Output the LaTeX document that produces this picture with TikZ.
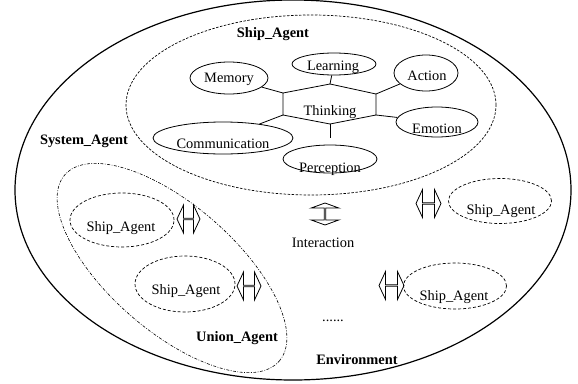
\documentclass[tikz,border=0pt]{standalone}
\usepackage{fontspec}
\setmainfont{Liberation Serif}
\usetikzlibrary{shapes.geometric, shapes.arrows}

\begin{document}
\begin{tikzpicture}[x=1pt, y=-1pt, font=\fontsize{14.4}{17}\selectfont,
  part/.style={draw, ellipse, inner sep=0pt, line width=0.8pt},
  agent/.style={draw, ellipse, inner sep=0pt, line width=0.7pt, dash pattern=on 3pt off 2pt},
  txt/.style={anchor=base, inner sep=0pt},
  bold/.style={txt, font=\fontsize{14.4}{17}\selectfont\bfseries},
  link/.style={line width=0.8pt},
  swap/.style={draw, double arrow, inner sep=0pt, line width=0.8pt, minimum width=28pt, minimum height=24pt,
    double arrow head extend=7pt, double arrow tip angle=130}]
\useasboundingbox (0,0) rectangle (578,383);

% environment, ship agent group and union agent
\draw [line width=1.2pt] (293,190) ellipse [x radius=278pt, y radius=190pt];
\draw [line width=0.7pt, dash pattern=on 2.5pt off 1.5pt] (311,105) ellipse [x radius=185pt, y radius=90pt];
\draw [line width=0.6pt, dash pattern=on 3pt off 1.5pt on 0.8pt off 1.5pt, rotate around={-41:(172,268)}]
  (172,268) ellipse [x radius=142pt, y radius=63pt];

% thinking hexagon
\coordinate (h1) at (283,93);
\coordinate (h2) at (330,84);
\coordinate (h3) at (376,94);
\coordinate (h4) at (376,115);
\coordinate (h5) at (330,124);
\coordinate (h6) at (283,115);
\draw [link] (h1) -- (h2) -- (h3) -- (h4) -- (h5) -- (h6) -- cycle;
\node [txt] (think) at (330,115) {Thinking};

% parts of the ship agent
\node [part, minimum width=78pt, minimum height=32pt]  (mem)   at (229,78)  {};
\node [part, minimum width=84pt, minimum height=22pt]  (learn) at (334,64)  {};
\node [part, minimum width=64pt, minimum height=36pt]  (act)   at (426,73)  {};
\node [part, minimum width=82pt, minimum height=30pt]  (emo)   at (437,122) {};
\node [part, minimum width=140pt, minimum height=32pt] (comm)  at (223,138) {};
\node [part, minimum width=94pt, minimum height=28pt]  (perc)  at (330,159) {};

\node [txt] (memt)   at (229,82.7) {Memory};
\node [txt] (learnt) at (333,70.7) {Learning};
\node [txt] (actt)   at (427,80)   {Action};
\node [txt] (emot)   at (437,133)  {Emotion};
\node [txt] (commt)  at (223,148)  {Communication};
\node [txt] (perct)  at (330,172)  {Perception};

\draw [link] (mem) -- (h1);
\draw [link] (learn) -- (h2);
\draw [link] (act) -- (h3);
\draw [link] (emo) -- (h4);
\draw [link, shorten >=7pt] (h5) -- (perc);
\draw [link] (comm) -- (h6);

% ship agents
\node [agent, minimum width=104pt, minimum height=54pt] (sa1) at (122,220) {};
\node [agent, minimum width=100pt, minimum height=56pt] (sa2) at (185,284) {};
\node [agent, minimum width=103pt, minimum height=45pt] (sa3) at (500,201) {};
\node [agent, minimum width=103pt, minimum height=46pt] (sa4) at (455,286) {};

\node [txt] (sa1t) at (121,231.7) {Ship\_Agent};
\node [txt] (sa2t) at (186,294)   {Ship\_Agent};
\node [txt] (sa3t) at (501,214)   {Ship\_Agent};
\node [txt] (sa4t) at (454,300.7) {Ship\_Agent};

% interaction arrows
\node [swap, minimum height=23pt] (sw1) at (188.5,219) {};
\node [swap] (sw2) at (249,286) {};
\node [swap, minimum height=25pt] (sw3) at (428.5,203.5) {};
\node [swap, minimum height=25pt] (sw4) at (391.5,285.5) {};
\node [swap, minimum height=22pt, rotate=90, double arrow tip angle=140] (sw5) at (325,214) {};
\node [txt] (inter) at (323,247) {Interaction};
\node [txt] (dots) at (333,321) {......};

% group labels
\node [bold] (shipl)   at (273,37)  {Ship\_Agent};
\node [bold] (systl)   at (84,144.5) {System\_Agent};
\node [bold] (unionl)  at (237,341) {Union\_Agent};
\node [bold] (envl)    at (357,364) {Environment};
\end{tikzpicture}
\end{document}
